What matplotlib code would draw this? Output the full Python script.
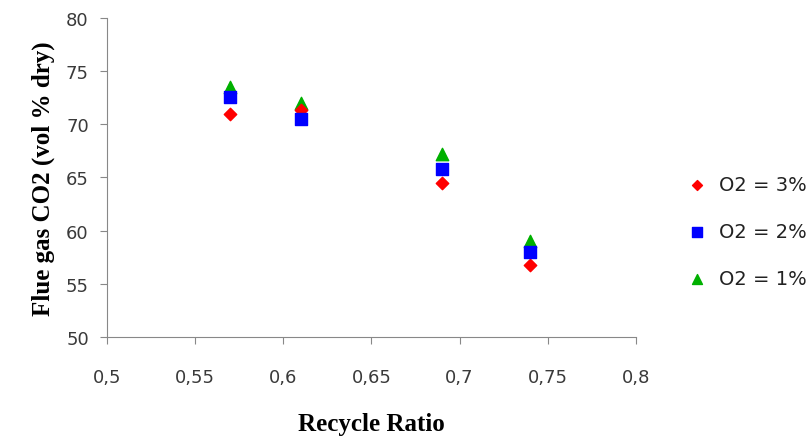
import matplotlib.pyplot as plt
from matplotlib.ticker import FuncFormatter

recycle_ratio = [0.57, 0.61, 0.69, 0.74]
co2_o2_3 = [71.0, 71.3, 64.5, 56.8]
co2_o2_2 = [72.6, 70.5, 65.8, 58.0]
co2_o2_1 = [73.5, 72.0, 67.2, 59.0]

series_labels = ["O2 = 3%", "O2 = 2%", "O2 = 1%"]

fig = plt.figure(figsize=(8.1, 4.39), dpi=100)
ax = fig.add_axes([0.132, 0.23, 0.653, 0.727])

ax.scatter(recycle_ratio, co2_o2_3, marker="D", s=40, color="#ff0000",
           label=series_labels[0], zorder=3)
ax.scatter(recycle_ratio, co2_o2_2, marker="s", s=85, color="#0000ff",
           label=series_labels[1], zorder=3)
ax.scatter(recycle_ratio, co2_o2_1, marker="^", s=80, color="#00b000",
           label=series_labels[2], zorder=2)

ax.set_xlim(0.5, 0.8)
ax.set_ylim(50, 80)
ax.set_xticks([0.5, 0.55, 0.6, 0.65, 0.7, 0.75, 0.8])
ax.set_yticks(range(50, 81, 5))
ax.xaxis.set_major_formatter(
    FuncFormatter(lambda v, p: f"{v:g}".replace(".", ",")))

for side in ["top", "right"]:
    ax.spines[side].set_visible(False)
for side in ["left", "bottom"]:
    ax.spines[side].set_color("#888888")
ax.tick_params(direction="out", length=5, color="#888888",
               labelsize=13, labelcolor="#3a3a3a", pad=8)
ax.tick_params(axis="x", pad=17)

ax.set_xlabel("Recycle Ratio", family="Liberation Serif", fontsize=18,
              fontweight="bold", labelpad=19)
ax.set_ylabel("Flue gas CO2 (vol % dry)", family="Liberation Serif",
              fontsize=18, fontweight="bold", labelpad=8)

ax.legend(loc="center left", bbox_to_anchor=(1.045, 0.33), frameon=False,
          fontsize=14, handletextpad=0.15, labelspacing=1.45,
          markerscale=0.8, scatterpoints=1, labelcolor="#222222")

fig.savefig("out.png", dpi=100)
